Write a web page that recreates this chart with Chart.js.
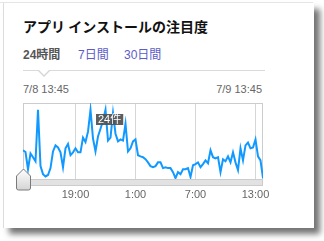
<!DOCTYPE html>
<html>
<head>
<meta charset="utf-8">
<script src="https://cdn.jsdelivr.net/npm/chart.js@4"></script>
<style>
    html, body { margin: 0; padding: 0; background: #fff; }
    body { width: 324px; height: 241px; position: relative; overflow: hidden; }
    .topline { position: absolute; left: 0; top: 2px; width: 313px; height: 1px; background: #e6e6e6; }
    .card {
        position: absolute; left: 3px; top: 3px; width: 310px; height: 225px;
        background: #fff; border-left: 1px solid #dcdcdc;
        box-shadow: 6px 6px 6px rgba(0, 0, 0, 0.55);
    }
    .title {
        position: absolute; left: 23px; top: 18px; margin: 0;
        font: bold 14px/16px "Noto Sans CJK JP", sans-serif; color: #111;
    }
    .tabs {
        position: absolute; left: 23px; top: 48px;
        font: 12px/14px "Liberation Sans", "Noto Sans CJK JP", sans-serif;
    }
    .tabs span { position: absolute; white-space: nowrap; color: #5c5cc8; }
    .tabs span.on { color: #555; font-weight: bold; }
    .sep { position: absolute; left: 23px; top: 70px; width: 242px; height: 1px; background: #dadada; }
    .notch { position: absolute; left: 37px; top: 70px; width: 0; height: 0;
        border-left: 7px solid transparent; border-right: 7px solid transparent; border-top: 7px solid #d6d6d6; }
    .notch i { position: absolute; left: -6px; top: -8px; width: 0; height: 0;
        border-left: 6px solid transparent; border-right: 6px solid transparent; border-top: 6px solid #fff; }
    .range { position: absolute; top: 83px; font: 11px/13px "Liberation Sans", sans-serif; color: #666; white-space: nowrap; }
    #chartWrap { position: absolute; left: 0; top: 95px; width: 324px; height: 130px; }
</style>
</head>
<body>
<div class="topline"></div>
<div class="card"></div>
<h1 class="title">アプリ インストールの注目度</h1>
<div class="tabs" id="tabs"></div>
<div class="sep"></div>
<div class="notch"><i></i></div>
<div class="range" id="rangeStart" style="left:23px"></div>
<div class="range" id="rangeEnd" style="right:62px"></div>
<div id="chartWrap"><canvas id="attentionChart" width="324" height="130"></canvas></div>

<script>
// installs per 15 minutes, from 7/8 13:45 to 7/9 13:45
const values = [
    10.0, 9.4, 3.4, 8.9, 7.6, 6.2, 24.1, 4.5, 1.7, 0.9,
    1.4, 3.8, 9.6, 11.7, 11.0, 9.3, 4.1, 10.7, 12.2, 8.3,
    9.3, 10.7, 9.3, 9.3, 14.4, 12.9, 16.5, 24.1, 14.1, 9.6,
    14.8, 17.5, 20.3, 24.1, 13.4, 14.4, 23.0, 15.8, 13.1, 13.8,
    13.4, 19.3, 9.6, 10.7, 13.1, 13.8, 8.3, 7.9, 7.6, 6.9,
    5.8, 4.5, 4.1, 4.5, 5.8, 5.8, 3.8, 4.1, 3.8, 3.8,
    2.4, 0.3, 2.4, 1.7, 3.4, 3.4, 3.8, 0.7, 4.8, 5.2,
    5.8, 4.1, 5.2, 6.5, 5.5, 10.0, 7.6, 7.2, 7.6, 2.4,
    6.9, 6.2, 7.9, 5.8, 9.3, 5.8, 3.1, 10.7, 6.5, 11.7,
    12.7, 10.7, 11.0, 13.8, 7.9, 6.5, 0.3
];
const tickPositions = [21, 45, 69, 93];       // quarter hours after 13:45
const tickLabels = ['19:00', '1:00', '7:00', '13:00'];
const rangeLabels = ['7/8 13:45', '7/9 13:45'];
const tabNames = ['24時間', '7日間', '30日間'];
const tabLefts = [0, 55, 101];
const hoverIndex = 33;

document.getElementById('rangeStart').textContent = rangeLabels[0];
document.getElementById('rangeEnd').textContent = rangeLabels[1];
document.getElementById('tabs').innerHTML = tabNames.map((t, i) =>
    `<span class="${i === 0 ? 'on' : ''}" style="left:${tabLefts[i]}px">${t}</span>`).join('');

// frame, slider band, handle and the hover label
const decorations = {
    id: 'decorations',
    beforeDatasetsDraw(chart) {
        const { ctx, chartArea: a } = chart;
        ctx.save();
        ctx.fillStyle = '#e2e2e2';
        ctx.fillRect(a.left, a.bottom, a.right - a.left, 6);
        ctx.strokeStyle = '#cccccc';
        ctx.lineWidth = 1;
        ctx.strokeRect(a.left + 0.5, a.top + 0.5, a.right - a.left - 1, a.bottom + 6 - a.top);
        ctx.beginPath();
        ctx.moveTo(a.left, a.bottom + 0.5);
        ctx.lineTo(a.right, a.bottom + 0.5);
        ctx.stroke();
        ctx.restore();
    },
    afterDraw(chart) {
        const { ctx, chartArea: a } = chart;
        ctx.save();
        // slider handle
        const hx = a.left + 0.5, top = a.bottom - 10;
        ctx.beginPath();
        ctx.moveTo(hx, top);
        ctx.lineTo(hx + 7, top + 7);
        ctx.lineTo(hx + 7, top + 19);
        ctx.quadraticCurveTo(hx + 7, top + 21, hx + 5, top + 21);
        ctx.lineTo(hx - 5, top + 21);
        ctx.quadraticCurveTo(hx - 7, top + 21, hx - 7, top + 19);
        ctx.lineTo(hx - 7, top + 7);
        ctx.closePath();
        const g = ctx.createLinearGradient(0, top, 0, top + 21);
        g.addColorStop(0, '#ffffff');
        g.addColorStop(1, '#d4d4d4');
        ctx.fillStyle = g;
        ctx.fill();
        ctx.strokeStyle = '#7a7a7a';
        ctx.stroke();

        // hover label
        const pt = chart.getDatasetMeta(0).data[hoverIndex];
        const label = Math.round(values[hoverIndex]) + '件';
        ctx.font = '11px "Liberation Sans", "Noto Sans CJK JP", sans-serif';
        const w = ctx.measureText(label).width + 4;
        const bx = Math.round(pt.x + 4 - w / 2), by = Math.round(pt.y + 4);
        ctx.fillStyle = 'rgba(80, 80, 80, 0.92)';
        ctx.fillRect(bx, by, w, 11);
        ctx.fillStyle = '#fff';
        ctx.textBaseline = 'middle';
        ctx.fillText(label, bx + 2, by + 6);
        ctx.restore();
    }
};

const ctx = document.getElementById('attentionChart').getContext('2d');
new Chart(ctx, {
    type: 'line',
    data: {
        datasets: [{
            data: values.map((v, i) => ({ x: i, y: v })),
            borderColor: '#1199ff',
            borderWidth: 2,
            pointRadius: 0,
            tension: 0,
            fill: false
        }]
    },
    options: {
        responsive: false,
        animation: false,
        layout: { padding: { left: 23, right: 61, top: 8, bottom: 10 } },
        plugins: { legend: { display: false }, tooltip: { enabled: false } },
        scales: {
            x: {
                type: 'linear',
                min: 0,
                max: values.length - 1,
                afterBuildTicks: s => { s.ticks = tickPositions.map(v => ({ value: v })); },
                afterFit: s => { s.height = 36; },
                ticks: {
                    autoSkip: false,
                    maxRotation: 0,
                    padding: 3,
                    color: '#666',
                    font: { family: '"Liberation Sans", sans-serif', size: 11 },
                    callback: (v) => tickLabels[tickPositions.indexOf(v)]
                },
                grid: { color: '#d6d6d6', tickLength: 6, drawTicks: true },
                border: { display: false }
            },
            y: {
                display: false,
                min: 0,
                max: 26.5
            }
        }
    },
    plugins: [decorations]
});
</script>
</body>
</html>
